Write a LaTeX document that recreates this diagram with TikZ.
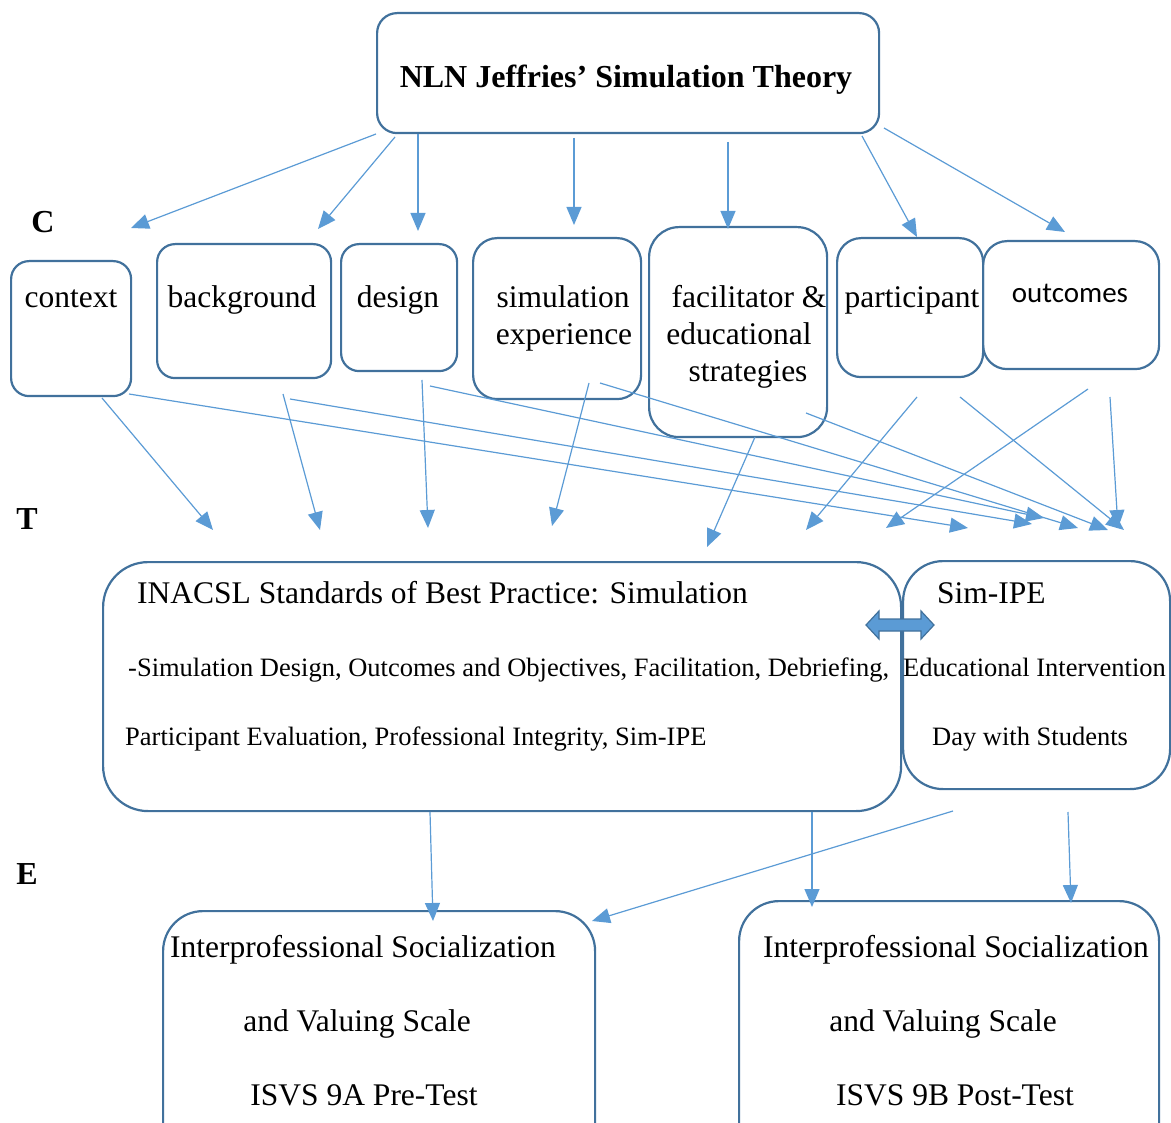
\documentclass[tikz,border=0pt]{standalone}
\usepackage{fontspec}
\setmainfont{Liberation Serif}
\newfontfamily\calib{Carlito}
\usetikzlibrary{arrows.meta,calc}
\definecolor{boxc}{HTML}{41719C}
\definecolor{arrc}{HTML}{5B9BD5}
\tikzset{
 box/.style={draw=boxc, line width=2.2pt, rounded corners=18pt, inner sep=0pt, anchor=north west},
 big/.style={font=\fontsize{31.5}{36}\selectfont, inner sep=0pt, anchor=base},
 bigw/.style={font=\fontsize{31.5}{36}\selectfont, inner sep=0pt, anchor=base west},
 small/.style={font=\fontsize{26.5}{30}\selectfont, inner sep=0pt, anchor=base west},
 bold/.style={font=\fontsize{32}{36}\selectfont\bfseries, inner sep=0pt, anchor=base},
 conn/.style={draw=arrc, line width=1.2pt, -{Triangle[length=18pt,width=15pt]}},
}
\begin{document}
\begin{tikzpicture}[x=1pt,y=-1pt]
\useasboundingbox (0,0) rectangle (1171,1123);
\clip (0,0) rectangle (1171,1123);
% boxes
\node[box, rounded corners=20pt, minimum width=502pt, minimum height=120pt] (top) at (376,12) {};
\node[box, minimum width=120pt, minimum height=135pt] (context) at (10,260) {};
\node[box, minimum width=174pt, minimum height=134pt] (background) at (156,243) {};
\node[box, minimum width=116pt, minimum height=127pt] (design) at (340,243) {};
\node[box, rounded corners=24pt, minimum width=168pt, minimum height=161pt] (simexp) at (472,237) {};
\node[box, rounded corners=30pt, minimum width=178pt, minimum height=210pt] (facil) at (648,226) {};
\node[box, rounded corners=24pt, minimum width=146pt, minimum height=139pt] (partic) at (836,237) {};
\node[box, rounded corners=24pt, minimum width=176pt, minimum height=128pt] (outc) at (982,240) {};
\node[box, rounded corners=45pt, minimum width=798pt, minimum height=249pt] (inacsl) at (102,561) {};
\node[box, rounded corners=40pt, minimum width=267pt, minimum height=228pt] (simipe) at (902,560) {};
\node[box, rounded corners=40pt, minimum width=432pt, minimum height=260pt] (isvsl) at (162,910) {};
\node[box, rounded corners=40pt, minimum width=420pt, minimum height=270pt] (isvsr) at (738,900) {};
% texts
\node[bold] (ttop) at (626,88) {NLN Jeffries’ Simulation Theory};
\node[bold] (lc) at (43,233) {C};
\node[bold] (lt) at (27,529) {T};
\node[bold] (le) at (27,884) {E};
\node[big] (tcontext) at (71,308) {context};
\node[big] (tbackground) at (242,308) {background};
\node[big] (tdesign) at (398,308) {design};
\node[big] (tsim1) at (563,308) {simulation};
\node[big] (tsim2) at (564,345) {experience};
\node[big] (tfac1) at (749,308) {facilitator \&};
\node[big] (tfac2) at (739,345) {educational};
\node[big] (tfac3) at (748,382) {strategies};
\node[big] (tpart) at (912,308) {participant};
\node[big, font=\fontsize{29}{34}\calib] (toutc) at (1070,303) {outcomes};
\node[bigw] (tin1) at (137,603) {INACSL Standards of Best Practice: Simulation};
\node[small] (tin2) at (128,676) {-Simulation Design, Outcomes and Objectives, Facilitation, Debriefing,};
\node[small] (tin3) at (125,745) {Participant Evaluation, Professional Integrity, Sim-IPE};
\node[bigw] (tsi1) at (937,603) {Sim-IPE};
\node[small] (tsi2) at (903,676) {Educational Intervention};
\node[small] (tsi3) at (932,745) {Day with Students};
\node[big] (tl1) at (363,957) {Interprofessional Socialization};
\node[big] (tl2) at (357,1031) {and Valuing Scale};
\node[big] (tl3) at (364,1105) {ISVS 9A Pre-Test};
\node[big] (tr1) at (956,957) {Interprofessional Socialization};
\node[big] (tr2) at (943,1031) {and Valuing Scale};
\node[big] (tr3) at (955,1105) {ISVS 9B Post-Test};
% double arrow
\coordinate (dbl) at (900,625);
\draw[draw=boxc, fill=arrc, line width=1.2pt, line join=miter]
  ($(dbl)+(-34,0)$) -- ($(dbl)+(-21,-14)$) -- ($(dbl)+(-21,-6)$) -- ($(dbl)+(21,-6)$)
  -- ($(dbl)+(21,-14)$) -- ($(dbl)+(34,0)$) -- ($(dbl)+(21,14)$) -- ($(dbl)+(21,6)$)
  -- ($(dbl)+(-21,6)$) -- ($(dbl)+(-21,14)$) -- cycle;
% top tier arrows
\coordinate (a1s) at (376,134); \coordinate (a1e) at (131,228);
\coordinate (a2s) at (395,137); \coordinate (a2e) at (318,229);
\coordinate (a3s) at (418,134); \coordinate (a3e) at (418,231);
\coordinate (a4s) at (574,138); \coordinate (a4e) at (574,225);
\coordinate (a5s) at (728,142); \coordinate (a5e) at (728,229);
\coordinate (a6s) at (862,136); \coordinate (a6e) at (917,237);
\coordinate (a7s) at (884,128); \coordinate (a7e) at (1065,232);
\foreach \i in {1,...,7} {\draw[conn] (a\i s) -- (a\i e);}
% second tier arrows
\coordinate (b1s) at (102,398); \coordinate (b1e) at (213,530);
\coordinate (b2s) at (283,394); \coordinate (b2e) at (320,530);
\coordinate (b3s) at (422,380); \coordinate (b3e) at (428,528);
\coordinate (b4s) at (589,383); \coordinate (b4e) at (552,526);
\coordinate (b5s) at (755,437); \coordinate (b5e) at (707,547);
\coordinate (b6s) at (917,397); \coordinate (b6e) at (806,530);
\coordinate (b7s) at (1088,389); \coordinate (b7e) at (886,528);
\coordinate (b8s) at (129,394); \coordinate (b8e) at (968,528);
\coordinate (b9s) at (290,399); \coordinate (b9e) at (1032,524);
\coordinate (b10s) at (430,386); \coordinate (b10e) at (1044,518);
\coordinate (b11s) at (600,383); \coordinate (b11e) at (1078,528);
\coordinate (b12s) at (806,413); \coordinate (b12e) at (1108,530);
\coordinate (b13s) at (960,397); \coordinate (b13e) at (1124,530);
\coordinate (b14s) at (1110,397); \coordinate (b14e) at (1118,528);
\foreach \i in {1,...,14} {\draw[conn] (b\i s) -- (b\i e);}
% bottom arrows
\coordinate (c1s) at (430,812); \coordinate (c1e) at (433,921);
\coordinate (c2s) at (812,812); \coordinate (c2e) at (812,907);
\coordinate (c3s) at (953,811); \coordinate (c3e) at (592,921);
\coordinate (c4s) at (1068,812); \coordinate (c4e) at (1071,903);
\foreach \i in {1,...,4} {\draw[conn] (c\i s) -- (c\i e);}
\end{tikzpicture}
\end{document}
